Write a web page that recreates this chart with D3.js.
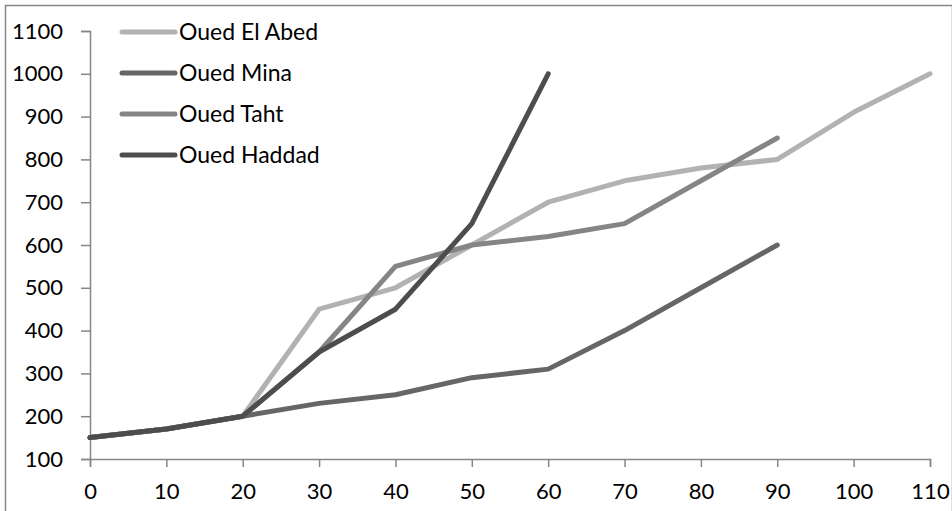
<!DOCTYPE html>
<html>
<head>
<meta charset="utf-8">
<script src="https://cdn.jsdelivr.net/npm/d3@7"></script>
<style>
  body { margin: 0; background: #fff; }
  svg text { font-family: Lato, "Open Sans", sans-serif; fill: #000; }
</style>
</head>
<body>
<div id="chart"></div>
<script>
var xValues = [0, 10, 20, 30, 40, 50, 60, 70, 80, 90, 100, 110];
var elAbed = [150, 170, 200, 450, 500, 600, 700, 750, 780, 800, 910, 1000];
var mina = [150, 170, 200, 230, 250, 290, 310, 400, 500, 600];
var taht = [150, 170, 200, 350, 550, 600, 620, 650, 750, 850];
var haddad = [150, 170, 200, 350, 450, 650, 1000];
var seriesNames = ["Oued El Abed", "Oued Mina", "Oued Taht", "Oued Haddad"];
var xTicks = [0, 10, 20, 30, 40, 50, 60, 70, 80, 90, 100, 110];
var yTicks = [100, 200, 300, 400, 500, 600, 700, 800, 900, 1000, 1100];

var width = 952, height = 511;
var margin = { top: 31, right: 22, bottom: 52, left: 90 };

var svg = d3.select("#chart").append("svg")
  .attr("width", width).attr("height", height);

// outer border
svg.append("rect")
  .attr("x", 5.5).attr("y", 5.5)
  .attr("width", width - 5).attr("height", height)
  .attr("fill", "none").attr("stroke", "#868686").attr("stroke-width", 1.5);

var x = d3.scaleLinear().domain([0, 110]).range([margin.left, width - margin.right]);
var y = d3.scaleLinear().domain([100, 1100]).range([height - margin.bottom, margin.top]);

// y axis
var yAxis = svg.append("g")
  .attr("transform", "translate(" + margin.left + ",0)")
  .call(d3.axisLeft(y).tickValues(yTicks).tickSize(9).tickPadding(18).tickFormat(d3.format("d")));
yAxis.selectAll("text").style("font-size", "22px");

// x axis
var xAxis = svg.append("g")
  .attr("transform", "translate(0," + y(100) + ")")
  .call(d3.axisBottom(x).tickValues(xTicks).tickSize(8).tickPadding(16).tickFormat(d3.format("d")));
xAxis.selectAll("text").style("font-size", "22px");

svg.selectAll(".domain, .tick line").attr("stroke", "#868686").attr("stroke-width", 1.5);

var series = [
  { name: seriesNames[0], values: elAbed, color: "#b2b2b2" },
  { name: seriesNames[1], values: mina, color: "#666666" },
  { name: seriesNames[2], values: taht, color: "#858585" },
  { name: seriesNames[3], values: haddad, color: "#4d4d4d" }
];

var line = d3.line()
  .x(function (d, i) { return x(xValues[i]); })
  .y(function (d) { return y(d); });

series.forEach(function (s) {
  svg.append("path")
    .datum(s.values)
    .attr("d", line)
    .attr("fill", "none")
    .attr("stroke", s.color)
    .attr("stroke-width", 5)
    .attr("stroke-linejoin", "round")
    .attr("stroke-linecap", "round");
});

// legend
var legend = svg.append("g").attr("transform", "translate(122,32)");
series.forEach(function (s, i) {
  var g = legend.append("g").attr("transform", "translate(0," + i * 41 + ")");
  g.append("line")
    .attr("x1", 0).attr("x2", 53)
    .attr("stroke", s.color).attr("stroke-width", 5)
    .attr("stroke-linecap", "round");
  g.append("text")
    .attr("x", 57).attr("dy", "0.35em")
    .style("font-size", "23px")
    .text(s.name);
});
</script>
</body>
</html>
